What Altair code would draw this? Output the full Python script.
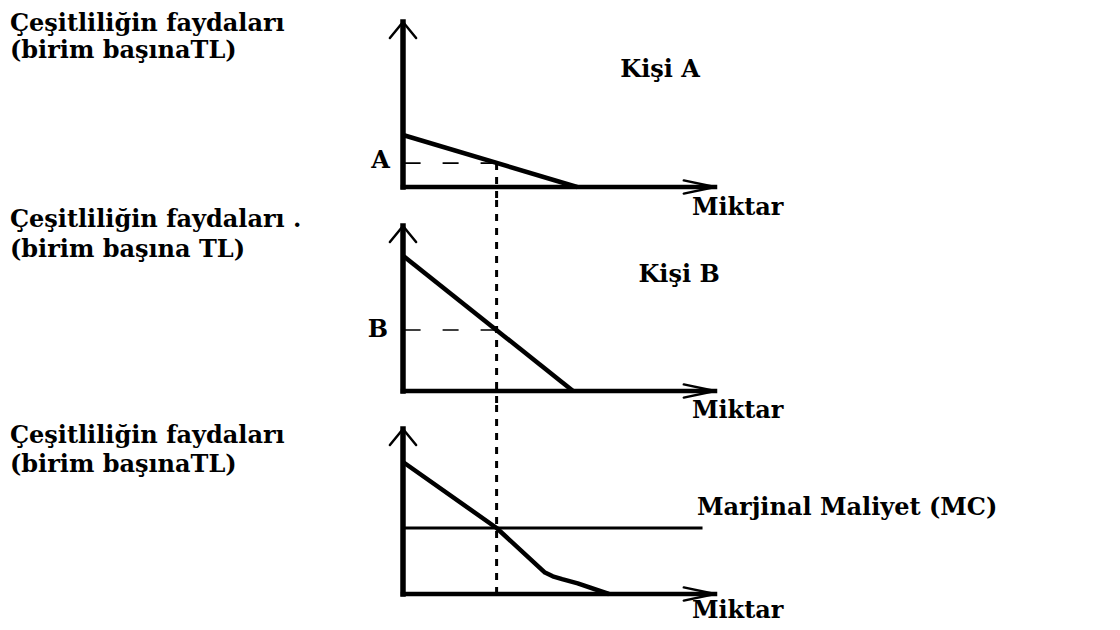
import altair as alt
import pandas as pd

# ---------------- data ----------------
# quantity (Miktar) units on x, benefit (TL per unit) on y; each axis arrow ends at 10
Q_AXIS_END = 10.0
P_AXIS_END = 10.0
Q_STAR = 3.0                      # quantity marked by the dotted vertical line

# Kişi A marginal benefit
A_Q = [0.0, 5.58]
A_P = [3.15, 0.0]
A_LEVEL = 1.45

# Kişi B marginal benefit
B_Q = [0.0, 5.45]
B_P = [8.2, 0.0]
B_LEVEL = 3.7

# summed benefit curve (bottom panel)
SUM_Q = [0.0, 3.0, 4.55, 4.8, 5.1, 5.6, 6.6]
SUM_P = [8.0, 4.0, 1.3, 1.07, 0.9, 0.64, 0.0]
MC_LEVEL = 4.0
MC_Q_END = 9.6

# texts
TITLE_L1 = ["Çeşitliliğin faydaları", "Çeşitliliğin faydaları .", "Çeşitliliğin faydaları"]
TITLE_L2 = ["(birim başınaTL)", "(birim başına TL)", "(birim başınaTL)"]
X_LABEL = "Miktar"
PERSON = ["Kişi A", "Kişi B"]
LEVEL_LABEL = ["A", "B"]
MC_LABEL = "Marjinal Maliyet (MC)"

# ---------------- layout / style ----------------
FONT = "DejaVu Serif"
FS = 24
FW = "bold"
PX_Q = 31.2           # px per quantity unit
PX_P = 16.5           # px per benefit unit
ORIGIN_X = 395        # px where quantity = 0
W = 1104
PANELS = [(0, 192, 179), (192, 397, 383), (397, 614, 586)]   # top, bottom, axis-y (px)

Q_DOMAIN = [-ORIGIN_X / PX_Q, (W - ORIGIN_X) / PX_Q]

# annotation anchors (data units)
TITLE_Q = -12.6
TITLE_P = [(9.45, 7.8), (9.94, 8.12), (9.15, 7.39)]
MIKTAR_Q = 9.26
MIKTAR_P = [-1.70, -1.64, -1.45]
PERSON_POS = [(8.24, 6.67), (8.85, 6.61)]
LEVEL_LABEL_POS = [(-0.42, 1.15), (-0.48, 3.27)]
MC_LABEL_POS = (9.42, 4.79)


def p_domain(i):
    top, bottom, axis = PANELS[i]
    return [(axis - bottom) / PX_P, (axis - top) / PX_P]


def enc_xy(dom, two=False):
    e = dict(
        x=alt.X("q:Q", scale=alt.Scale(domain=Q_DOMAIN, nice=False, zero=False), axis=None),
        y=alt.Y("p:Q", scale=alt.Scale(domain=dom, nice=False, zero=False), axis=None),
    )
    if two:
        e["x2"] = alt.X2("q2:Q")
        e["y2"] = alt.Y2("p2:Q")
    return e


def seg(dom, rows, **mark):
    df = pd.DataFrame(rows, columns=["q", "p", "q2", "p2"])
    return alt.Chart(df).mark_rule(color="black", **mark).encode(**enc_xy(dom, True))


def texts(dom, rows, align):
    df = pd.DataFrame(rows, columns=["q", "p", "t"])
    return alt.Chart(df).mark_text(
        font=FONT, fontSize=FS, fontWeight=FW, align=align, baseline="alphabetic", color="black"
    ).encode(text="t:N", **enc_xy(dom))


def base_layers(i):
    dom = p_domain(i)
    yaxis = seg(dom, [(0, 0, 0, P_AXIS_END)], strokeWidth=5.5, strokeCap="square")
    xaxis = seg(dom, [(0, 0, Q_AXIS_END, 0)], strokeWidth=4.5, strokeCap="square")
    arms = seg(
        dom,
        [
            (0, P_AXIS_END, -0.42, P_AXIS_END - 0.97),
            (0, P_AXIS_END, 0.42, P_AXIS_END - 0.97),
            (Q_AXIS_END, 0, Q_AXIS_END - 1.0, 0.4),
            (Q_AXIS_END, 0, Q_AXIS_END - 1.0, -0.4),
        ],
        strokeWidth=2.5,
        strokeCap="round",
    )
    tl = texts(dom, [(TITLE_Q, TITLE_P[i][0], TITLE_L1[i]), (TITLE_Q, TITLE_P[i][1], TITLE_L2[i])], "left")
    mk = texts(dom, [(MIKTAR_Q, MIKTAR_P[i], X_LABEL)], "left")
    return dom, [yaxis, xaxis, arms, tl, mk]


def curve(dom, qs, ps):
    df = pd.DataFrame({"q": qs, "p": ps})
    return alt.Chart(df).mark_line(color="black", strokeWidth=4.5, strokeJoin="round").encode(**enc_xy(dom))


panels = []
for i, (cq, cp, lvl) in enumerate([(A_Q, A_P, A_LEVEL), (B_Q, B_P, B_LEVEL)]):
    dom, layers = base_layers(i)
    dashed = seg(dom, [(Q_STAR, lvl, 0, lvl)], strokeWidth=1.6, strokeDash=[16, 22])
    top_p = lvl if i == 0 else dom[1]
    dotted = seg(dom, [(Q_STAR, top_p, Q_STAR, dom[0])], strokeWidth=3, strokeDash=[7, 7])
    person = texts(dom, [(PERSON_POS[i][0], PERSON_POS[i][1], PERSON[i])], "center")
    lab = texts(dom, [(LEVEL_LABEL_POS[i][0], LEVEL_LABEL_POS[i][1], LEVEL_LABEL[i])], "right")
    panels.append(
        alt.layer(*layers, dashed, dotted, curve(dom, cq, cp), person, lab).properties(
            width=W, height=PANELS[i][1] - PANELS[i][0]
        )
    )

dom, layers = base_layers(2)
dotted3 = seg(dom, [(Q_STAR, dom[1], Q_STAR, 0)], strokeWidth=3, strokeDash=[7, 7])
mc = seg(dom, [(0, MC_LEVEL, MC_Q_END, MC_LEVEL)], strokeWidth=3)
mc_lab = texts(dom, [(MC_LABEL_POS[0], MC_LABEL_POS[1], MC_LABEL)], "left")
panels.append(
    alt.layer(*layers, mc, dotted3, curve(dom, SUM_Q, SUM_P), mc_lab).properties(
        width=W, height=PANELS[2][1] - PANELS[2][0]
    )
)

chart = (
    alt.vconcat(*panels, spacing=0, bounds="flush")
    .properties(padding=0, background="white")
    .configure_view(stroke=None)
)

chart.save("out.html", embed_options={"renderer": "svg", "actions": False})
